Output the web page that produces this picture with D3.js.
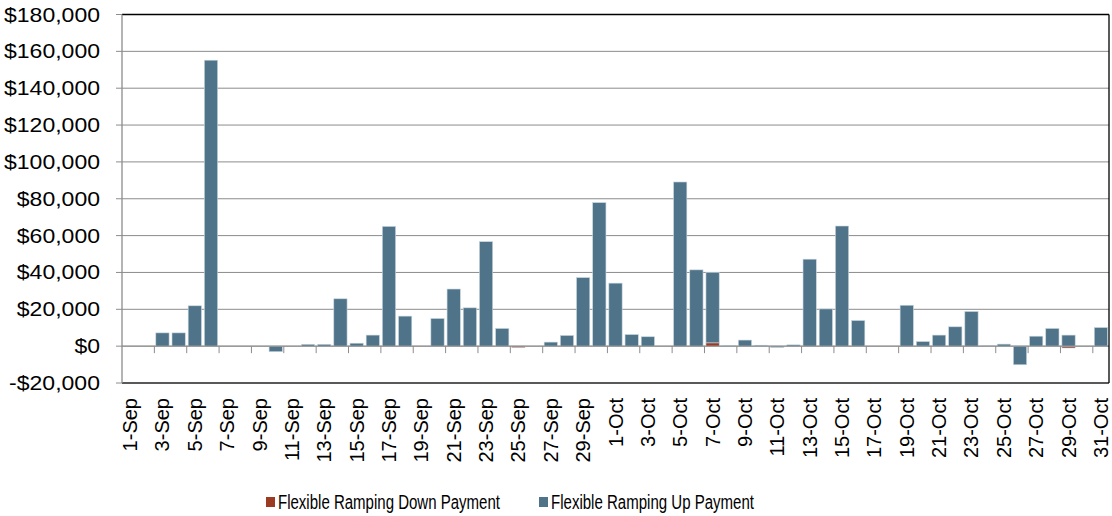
<!DOCTYPE html>
<html>
<head>
<meta charset="utf-8">
<script src="https://cdnjs.cloudflare.com/ajax/libs/d3/7.8.5/d3.min.js"></script>
<style>
  body { margin: 0; background: #fff; }
  svg { display: block; font-family: "Liberation Sans", Arial, sans-serif; }
</style>
</head>
<body>
<svg id="chart" width="1112" height="516"></svg>
<script>
// ---- data ----
const dates = [];
for (let d = 1; d <= 30; d++) dates.push(d + "-Sep");
for (let d = 1; d <= 31; d++) dates.push(d + "-Oct");

const upPayment = [
  0, 0, 7200, 7200, 21900, 155200, 0, 0, 0, -3000,
  0, 1000, 1000, 25700, 1600, 6000, 65000, 16300, 0, 15000,
  31000, 20800, 56700, 9600, 0, 0, 2200, 5800, 37200, 77900,
  34200, 6300, 5100, 0, 89100, 41400, 38200, 300, 3300, 500,
  -700, 700, 47200, 20200, 65200, 13900, 0, 0, 22200, 2500,
  6000, 10500, 18800, 200, 1100, -10100, 5400, 9600, 6000, 0,
  10100
];
const downPayment = [
  0, 0, 0, 0, 0, 0, 0, 0, 0, 0,
  0, 0, 0, 0, 0, 0, 0, 0, 0, 0,
  0, 0, 0, 0, -800, 0, 0, 0, 0, 0,
  0, 0, 0, 0, 0, 0, 1800, 0, 0, 0,
  0, 0, 0, -200, 0, 0, 0, 0, 0, 0,
  0, 0, 0, 0, 0, 0, -300, 0, -1000, 0,
  0
];
const yTicks = [-20000, 0, 20000, 40000, 60000, 80000, 100000, 120000, 140000, 160000, 180000];
const seriesNames = ["Flexible Ramping Down Payment", "Flexible Ramping Up Payment"];
const seriesColors = ["#9C3A22", "#4F7489"];

// ---- layout ----
const svg = d3.select("#chart");
const L = 122, R = 1109, T = 14.5, B = 383;

const x = d3.scaleBand().domain(dates).range([L, R]).paddingInner(0.18).paddingOuter(0.09);
const y = d3.scaleLinear().domain([-20000, 180000]).range([B, T]);

// gridlines
svg.append("g").selectAll("line").data(yTicks.filter(v => v !== -20000))
  .join("line")
  .attr("x1", L).attr("x2", R)
  .attr("y1", d => y(d)).attr("y2", d => y(d))
  .attr("stroke", d => d === 180000 ? "#000" : "#8c8c8c")
  .attr("stroke-width", d => d === 180000 ? 1.3 : 1);

// stacked bars (diverging)
const table = dates.map((d, i) => ({ date: d, down: downPayment[i], up: upPayment[i] }));
const stack = d3.stack().keys(["down", "up"]).offset(d3.stackOffsetDiverging);
const layers = stack(table);

svg.append("g").selectAll("g").data(layers).join("g")
  .attr("fill", (d, i) => seriesColors[i])
  .selectAll("rect").data(d => d.filter(p => p[1] !== p[0]))
  .join("rect")
  .attr("x", d => x(d.data.date))
  .attr("width", x.bandwidth())
  .attr("y", d => y(Math.max(d[0], d[1])))
  .attr("height", d => Math.abs(y(d[0]) - y(d[1])))
  .attr("stroke", "#c9d6de")
  .attr("stroke-width", 0.6);

// zero axis line
svg.append("line").attr("x1", L).attr("x2", R).attr("y1", y(0)).attr("y2", y(0))
  .attr("stroke", "#8c8c8c").attr("stroke-width", 1);

// x ticks at boundaries every 2 categories
const step = x.step();
const boundaryIdx = d3.range(2, dates.length + 1, 2);
const bx = i => x(dates[0]) + i * step - (x.paddingInner() * step) / 2;
svg.append("g").selectAll("line").data(boundaryIdx).join("line")
  .attr("x1", bx).attr("x2", bx)
  .attr("y1", y(0)).attr("y2", y(0) + 7)
  .attr("stroke", "#8c8c8c").attr("stroke-width", 1);

// borders
svg.append("line").attr("x1", L).attr("x2", R).attr("y1", B).attr("y2", B)
  .attr("stroke", "#222").attr("stroke-width", 1.3);
svg.append("line").attr("x1", R).attr("x2", R).attr("y1", T).attr("y2", B)
  .attr("stroke", "#000").attr("stroke-width", 1.3);
svg.append("line").attr("x1", L).attr("x2", L).attr("y1", T).attr("y2", B)
  .attr("stroke", "#8c8c8c").attr("stroke-width", 1.3);

// y ticks & labels
const yAxis = svg.append("g");
yAxis.selectAll("line").data(yTicks).join("line")
  .attr("x1", L - 6).attr("x2", L).attr("y1", d => y(d)).attr("y2", d => y(d))
  .attr("stroke", "#8c8c8c");
const fmt = v => (v < 0 ? "-$" : "$") + d3.format(",")(Math.abs(v));
const yLabels = yAxis.selectAll("text").data(yTicks).join("text")
  .attr("x", 100).attr("y", d => y(d)).attr("dy", "0.35em")
  .attr("text-anchor", "end").attr("font-size", 20).attr("fill", "#000")
  .text(fmt);
let refLen = 0;
yLabels.each(function(d) { if (d === 180000) refLen = this.getComputedTextLength(); });
const kx = 96 / refLen;
yLabels.each(function() {
  const w = this.getComputedTextLength();
  d3.select(this).attr("textLength", w * kx).attr("lengthAdjust", "spacingAndGlyphs");
});

// x labels (odd days)
svg.append("g").selectAll("text").data(dates.filter((d, i) => i % 2 === 0)).join("text")
  .attr("transform", d => `translate(${x(d) + x.bandwidth() / 2},398) rotate(-90)`)
  .attr("dy", "0.35em")
  .attr("text-anchor", "end").attr("font-size", 20).attr("fill", "#000")
  .text(d => d);

// legend
const legendX = [266, 539];
const legendLen = [222, 203];
const lg = svg.append("g").selectAll("g").data(seriesNames).join("g")
  .attr("transform", (d, i) => `translate(${legendX[i]},497)`);
lg.append("rect").attr("width", 9).attr("height", 10).attr("fill", (d, i) => seriesColors[i]);
lg.append("text").attr("x", 12).attr("y", 12).attr("font-size", 19.5).attr("fill", "#000")
  .attr("textLength", (d, i) => legendLen[i]).attr("lengthAdjust", "spacingAndGlyphs")
  .text(d => d);
</script>
</body>
</html>
